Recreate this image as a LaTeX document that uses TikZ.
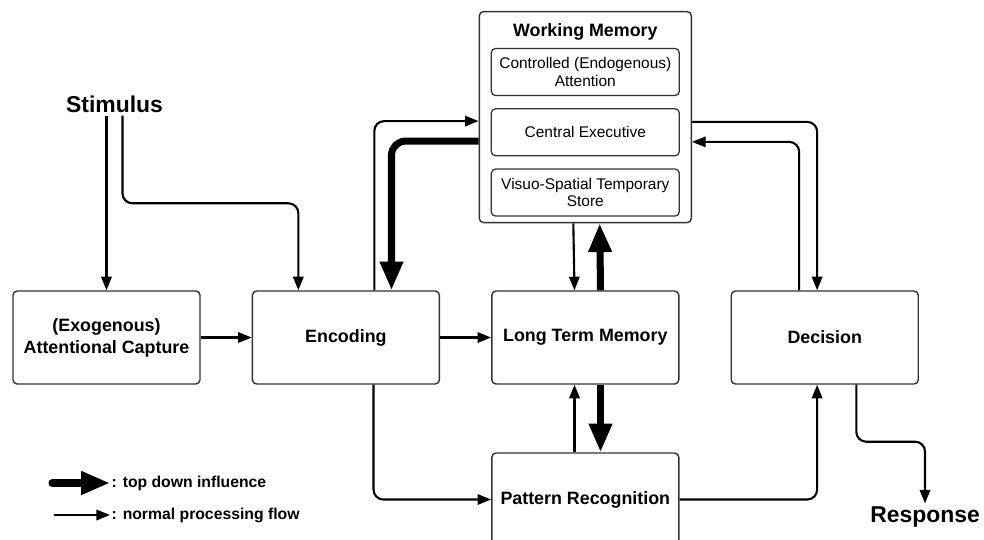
\documentclass[tikz,border=0pt]{standalone}
\usepackage{fontspec}
\setmainfont{Liberation Sans}
\usetikzlibrary{
  arrows.meta,
  positioning,
  calc
}
\tikzset{
  cmnode/.style={
    draw=black!80, line width=1pt, rounded corners=3pt,
    minimum width=4.675cm, minimum height=2.325cm,
    align=center, font=\fontsize{12.7}{15.5}\selectfont\bfseries
  },
  wmbox/.style={cmnode, minimum width=5.3cm, minimum height=5.275cm},
  subbox/.style={
    draw=black!80, line width=0.9pt, rounded corners=3pt,
    minimum width=4.7cm, minimum height=1.175cm,
    align=center, font=\fontsize{11}{12.5}\selectfont
  },
  bigtext/.style={font=\fontsize{16.3}{19}\selectfont\bfseries, inner sep=2pt},
  flow/.style={-{Triangle[length=3.4mm, width=2.6mm]}, line width=1.5pt, rounded corners=7pt},
  topdown/.style={-{Triangle[length=7.2mm, width=5.5mm]}, line width=5pt, rounded corners=10pt},
  tag/.style={font=\fontsize{11.2}{13}\selectfont\bfseries, inner sep=1pt, anchor=west}
}
\begin{document}
\begin{tikzpicture}[node distance=1.69cm and 1.275cm]
  \useasboundingbox (0,0) rectangle (24.6,-13.475);
  % main row
  \node[cmnode] (exo) at (2.6625,-8.4375) {(Exogenous)\\Attentional Capture};
  \node[cmnode, right=of exo] (enc) {Encoding};
  \node[cmnode, right=of enc] (ltm) {Long Term Memory};
  \node[cmnode, right=of ltm] (dec) {Decision};
  \node[cmnode, below=of ltm] (pr) {Pattern Recognition};
  % working memory
  \node[wmbox, above=1.675cm of ltm] (wm) {};
  \node[font=\fontsize{12.7}{15.5}\selectfont\bfseries] (wmtitle) at ($(wm.north)+(0,-0.525)$) {Working Memory};
  \node[subbox, below=0.925cm of wm.north] (attn) {Controlled (Endogenous)\\Attention};
  \node[subbox, below=0.3cm of attn] (ce) {Central Executive};
  \node[subbox, below=0.3cm of ce] (vs) {Visuo-Spatial Temporary\\Store};
  % in and out
  \node[bigtext] (stim) at (2.8625,-2.6) {Stimulus};
  \node[bigtext] (resp) at (23.125,-12.92) {Response};

  \draw[flow] (stim.south -| exo.north) -- (exo.north);
  \draw[flow] ($(stim.south)+(0.2,0)$) |- ($(enc.north)+(-1.19,2.175)$) -- ($(enc.north)+(-1.19,0)$);
  \draw[flow] (exo) -- (enc);
  \draw[flow] (enc) -- (ltm);
  \draw[flow] ($(enc.north)+(0.71,0)$) |- ($(ce.west -| wm.west)+(0,0.28)$);
  \draw[topdown] ($(ce.west -| wm.west)+(0,-0.22)$) -| ($(enc.north)+(1.14,0)$);
  \draw[flow] ($(wm.south)+(-0.3,0)$) -- ($(ltm.north)+(-0.27,0)$);
  \draw[topdown] ($(ltm.north)+(0.38,0)$) -- ($(wm.south)+(0.36,0)$);
  \draw[flow] ($(pr.north)+(-0.27,0)$) -- ($(ltm.south)+(-0.27,0)$);
  \draw[topdown] ($(ltm.south)+(0.38,0)$) -- ($(pr.north)+(0.38,0)$);
  \draw[flow] ($(enc.south)+(0.69,0)$) |- (pr.west);
  \draw[flow] (pr.east) -| ($(dec.south)+(-0.19,0)$);
  \draw[flow] ($(ce.east -| wm.east)+(0,0.26)$) -| ($(dec.north)+(-0.19,0)$);
  \draw[flow] ($(dec.north)+(-0.64,0)$) |- ($(ce.east -| wm.east)+(0,-0.24)$);
  \draw[flow] ($(dec.south)+(0.79,0)$) -- ++(0,-1.425) -| (resp.north);

  % legend
  \node[tag] (lgtop) at (2.75,-12.075) {: top down influence};
  \node[tag] (lgflow) at (2.75,-12.875) {: normal processing flow};
  \draw[topdown, line cap=round] ($(lgtop.west)+(-1.45,0)$) -- (lgtop.west);
  \draw[flow] ($(lgflow.west)+(-1.4,0)$) -- (lgflow.west);
\end{tikzpicture}
\end{document}
